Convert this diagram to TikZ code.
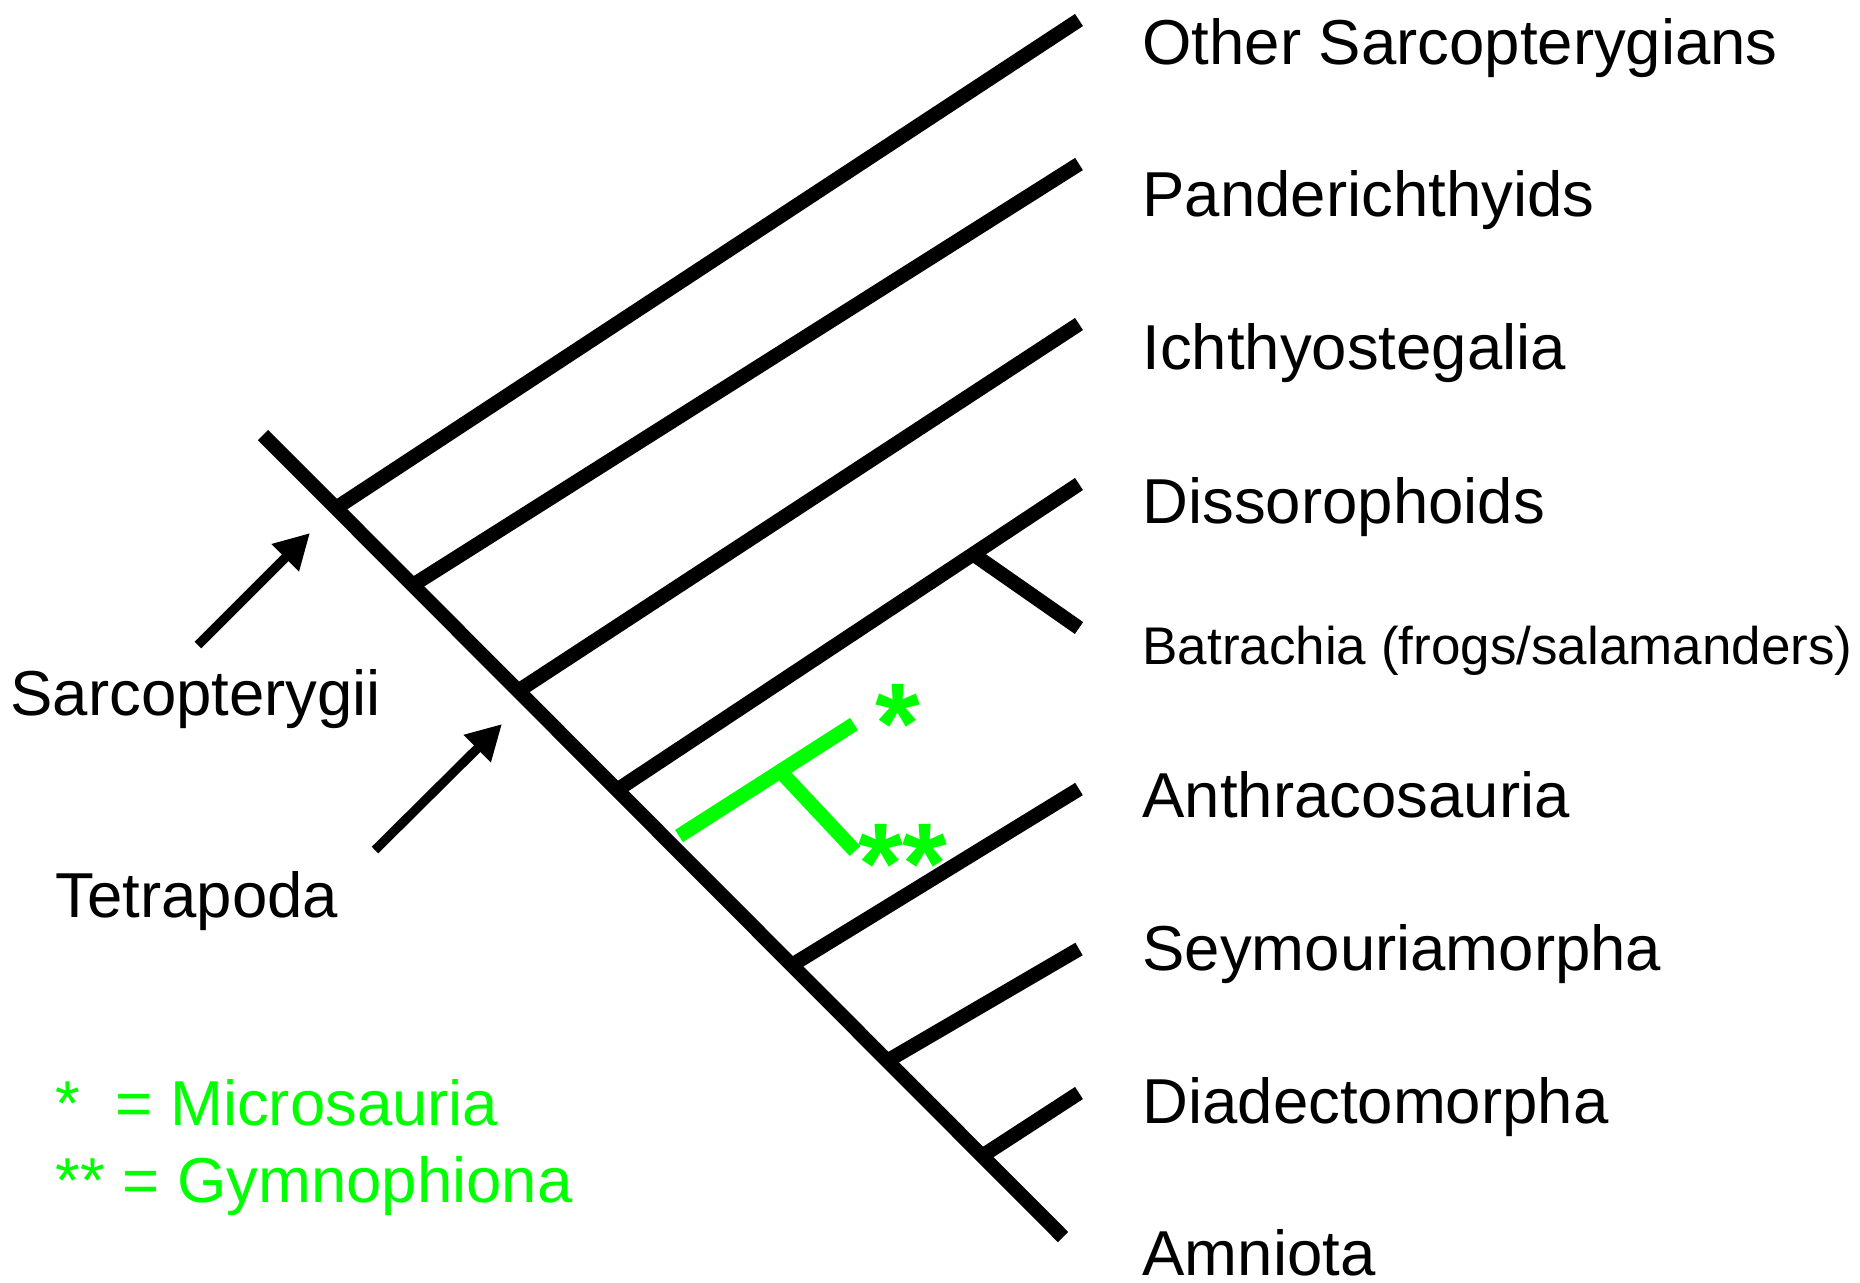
\documentclass[tikz,border=0pt]{standalone}
\usepackage{fontspec}
\setmainfont{Liberation Sans}
\usepackage{xcolor}
\usetikzlibrary{arrows.meta}
\definecolor{cladegreen}{RGB}{0,255,0}

\begin{document}
\begin{tikzpicture}[x=0.4pt, y=-0.4pt,
    branch/.style={line width=5.8pt, line cap=butt},
    taxon/.style={anchor=base west, inner sep=0pt, font=\fontsize{25.4}{30}\selectfont},
    star/.style={anchor=base, inner sep=0pt, text=cladegreen, font=\fontsize{46}{50}\selectfont\bfseries},
    pointer/.style={-{Triangle[length=14pt, width=14.5pt]}, line width=3.7pt}]
    \useasboundingbox (0,0) rectangle (1860,1282);

    % Nodes on the main line
    \coordinate (root) at (263,435);
    \coordinate (n1) at (336,508);
    \coordinate (n2) at (413,585);
    \coordinate (n3) at (518,691);
    \coordinate (n4) at (617,790);
    \coordinate (n5) at (792,965);
    \coordinate (n6) at (887,1061);
    \coordinate (n7) at (982,1156);
    \coordinate (amnio) at (1063,1237);
    \coordinate (n8) at (973,554);

    % Branch tips
    \coordinate (other) at (1079,20);
    \coordinate (pander) at (1079,164);
    \coordinate (ichthy) at (1079,324);
    \coordinate (disso) at (1079,484);
    \coordinate (batra) at (1079,628);
    \coordinate (anthra) at (1079,789);
    \coordinate (seymo) at (1079,949);
    \coordinate (diadec) at (1079,1093);

    % Tree
    \draw[branch] (root) -- (amnio);
    \draw[branch] (n1) -- (other);
    \draw[branch] (n2) -- (pander);
    \draw[branch] (n3) -- (ichthy);
    \draw[branch] (n4) -- (disso);
    \draw[branch] (n8) -- (batra);
    \draw[branch] (n5) -- (anthra);
    \draw[branch] (n6) -- (seymo);
    \draw[branch] (n7) -- (diadec);

    % Green side clade
    \coordinate (g0) at (679,836);
    \coordinate (g1) at (780,771);
    \coordinate (micro) at (854,724);
    \coordinate (gymno) at (855,851);
    \draw[branch, cladegreen] (g0) -- (micro);
    \draw[branch, cladegreen] (g1) -- (gymno);
    \node[star] (s1) at (898,763) {*};
    \node[star] (s2) at (903,903) {**};

    % Taxon labels
    \node[taxon] (l1) at (1142,64) {Other Sarcopterygians};
    \node[taxon] (l2) at (1142,216) {Panderichthyids};
    \node[taxon] (l3) at (1142,369) {Ichthyostegalia};
    \node[taxon] (l4) at (1142,523) {Dissorophoids};
    \node[taxon, font=\fontsize{21.2}{25}\selectfont] (l5) at (1142,664) {Batrachia (frogs/salamanders)};
    \node[taxon] (l6) at (1142,817) {Anthracosauria};
    \node[taxon] (l7) at (1142,970) {Seymouriamorpha};
    \node[taxon] (l8) at (1142,1123) {Diadectomorpha};
    \node[taxon] (l9) at (1142,1275) {Amniota};

    % Group labels and arrows
    \node[taxon] (sarco) at (10,715) {Sarcopterygii};
    \node[taxon] (tetra) at (55,917) {Tetrapoda};
    \coordinate (a1) at (198,645);
    \coordinate (h1) at (310,533);
    \coordinate (a2) at (375,850);
    \coordinate (h2) at (502,724);
    \draw[pointer] (a1) -- (h1);
    \draw[pointer] (a2) -- (h2);

    % Key
    \node[taxon, text=cladegreen] (k1) at (55,1125) {*~~= Microsauria};
    \node[taxon, text=cladegreen] (k2) at (55,1202) {** = Gymnophiona};
\end{tikzpicture}
\end{document}
